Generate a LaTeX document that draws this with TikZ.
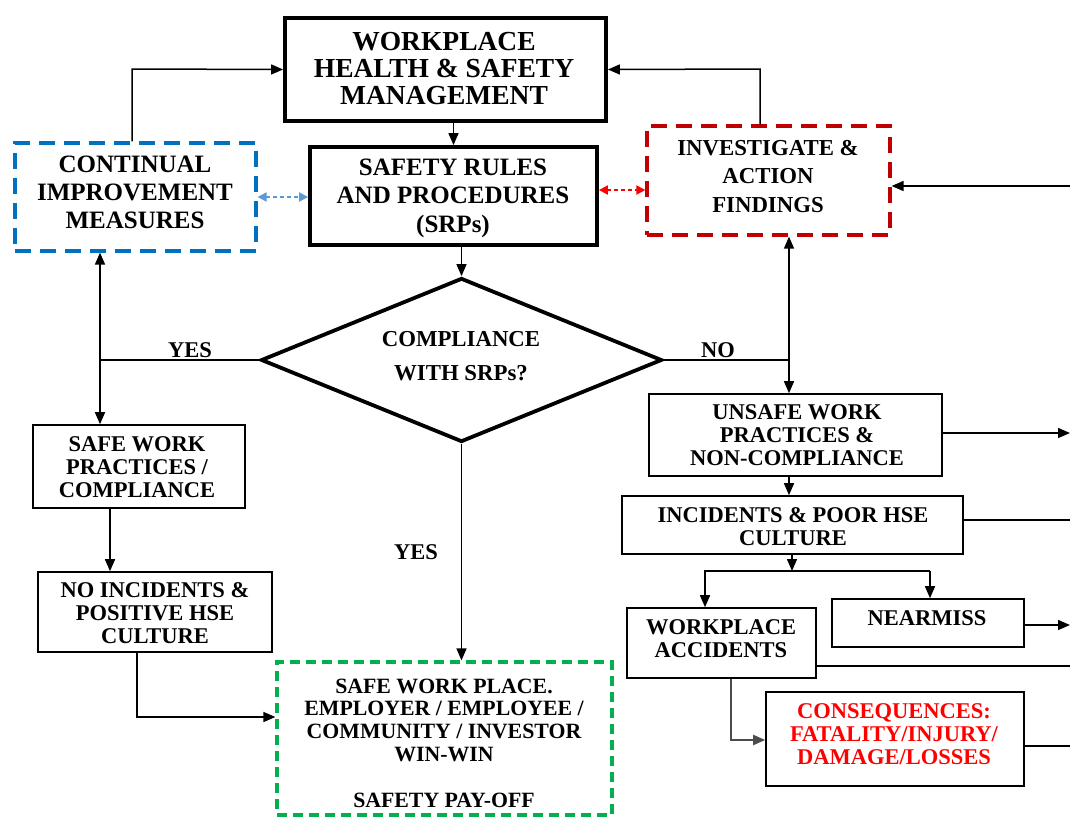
\documentclass[tikz,border=0pt]{standalone}
\usepackage{fontspec}
\setmainfont{Liberation Serif}
\newfontfamily\tnr{Liberation Serif}
\usetikzlibrary{arrows.meta,shapes.geometric}
\definecolor{cblue}{RGB}{0,112,192}
\definecolor{cred}{RGB}{192,0,0}
\definecolor{cgreen}{RGB}{0,176,80}
\definecolor{lblue}{RGB}{91,155,213}
\definecolor{bred}{RGB}{255,0,0}
\begin{document}
\begin{tikzpicture}[x=1pt,y=-1pt]
\tikzset{
  box/.style={draw, rectangle, line width=1.6pt, inner sep=0pt},
  thickbox/.style={draw, rectangle, line width=3.8pt, inner sep=0pt},
  dbox/.style={draw, rectangle, line width=3.2pt, inner sep=0pt, dash pattern=on 16pt off 9pt},
  txt/.style={align=center, inner sep=0pt, font=\tnr\fontsize{22.5pt}{23pt}\selectfont\bfseries},
  arr/.style={-{Triangle[length=12pt,width=10pt]}, line width=1.5pt},
  darr/.style={{Triangle[length=12pt,width=10pt]}-{Triangle[length=12pt,width=10pt]}, line width=1.5pt},
  ln/.style={line width=1.5pt},
  dotarr/.style={{Triangle[length=9pt,width=9pt]}-{Triangle[length=9pt,width=9pt]}, line width=2pt, dash pattern=on 4pt off 3pt},
}
\useasboundingbox (0,0) rectangle (1070,817);
\fill[white] (0,0) rectangle (1070,817);

% boxes
\node[thickbox, minimum width=321pt, minimum height=103pt] (whsm) at (445.5,69.5) {};
\node[thickbox, minimum width=287pt, minimum height=98pt] (srp) at (453.5,196) {};
\node[dbox, draw=cblue, minimum width=241pt, minimum height=108pt] (cim) at (135.5,197) {};
\node[dbox, draw=cred, minimum width=243pt, minimum height=109pt] (inv) at (768.5,180.5) {};
\node[draw, diamond, line width=3.8pt, inner sep=0pt, minimum width=401pt, minimum height=164pt] (dia) at (461.5,360) {};
\node[box, minimum width=212pt, minimum height=83pt] (safe) at (139,466.5) {};
\node[box, minimum width=234pt, minimum height=80pt] (noinc) at (155,612) {};
\node[draw=cgreen, rectangle, line width=3.2pt, inner sep=0pt, dash pattern=on 10pt off 6pt, minimum width=335pt, minimum height=153pt] (green) at (444.5,738.5) {};
\node[box, minimum width=293pt, minimum height=82pt] (unsafe) at (795.5,435) {};
\node[box, minimum width=341pt, minimum height=58pt] (incid) at (792.5,525) {};
\node[box, minimum width=189pt, minimum height=70pt] (acc) at (721.5,643) {};
\node[box, minimum width=192pt, minimum height=48pt] (near) at (928,623) {};
\node[box, minimum width=258pt, minimum height=94pt] (cons) at (895,739) {};

% texts
\node[txt, font=\tnr\fontsize{27.5pt}{27pt}\selectfont\bfseries] (whsmt) at (444,69) {WORKPLACE\\HEALTH \& SAFETY\\MANAGEMENT};
\node[txt, font=\tnr\fontsize{25pt}{28.5pt}\selectfont\bfseries] (srpt) at (453,198) {SAFETY RULES\\AND PROCEDURES\\(SRPs)};
\node[txt, font=\tnr\fontsize{25pt}{28pt}\selectfont\bfseries] (cimt) at (135,192) {CONTINUAL\\IMPROVEMENT\\MEASURES};
\node[txt, font=\tnr\fontsize{22.8pt}{28.5pt}\selectfont\bfseries] (invt) at (768,176.5) {INVESTIGATE \&\\ACTION\\FINDINGS};
\node[txt, font=\tnr\fontsize{22.8pt}{34pt}\selectfont\bfseries] (diat) at (461,356) {COMPLIANCE\\WITH SRPs?};
\node[txt] (safet) at (137,467) {SAFE WORK\\PRACTICES /\\COMPLIANCE};
\node[txt] (noinct) at (155,613) {NO INCIDENTS \&\\POSITIVE HSE\\CULTURE};
\node[txt, font=\tnr\fontsize{21.8pt}{22.8pt}\selectfont\bfseries] (greent) at (444,743) {SAFE WORK PLACE.\\EMPLOYER / EMPLOYEE /\\COMMUNITY / INVESTOR\\WIN-WIN\\[22.8pt]SAFETY PAY-OFF};
\node[txt] (unsafet) at (797,435) {UNSAFE WORK\\PRACTICES \&\\NON-COMPLIANCE};
\node[txt] (incidt) at (793,526.5) {INCIDENTS \& POOR HSE\\CULTURE};
\node[txt] (acct) at (721,639) {WORKPLACE\\ACCIDENTS};
\node[txt] (neart) at (927,618) {NEARMISS};
\node[txt, text=bred] (const) at (894,734.5) {CONSEQUENCES:\\FATALITY/INJURY/\\DAMAGE/LOSSES};

% labels
\node[txt] (yes1) at (190,350) {YES};
\node[txt] (no1) at (718,350) {NO};
\node[txt] (yes2) at (416,552) {YES};

% coordinates
\coordinate (c1) at (132,69);
\coordinate (c2) at (760,69);
\coordinate (e1) at (1070,186);
\coordinate (d1) at (0,190);
\coordinate (c3) at (100,360);
\coordinate (c4) at (789,360);
\coordinate (c5) at (110,0);
\coordinate (c6) at (137,717);
\coordinate (e2) at (1070,433);
\coordinate (e3) at (1070,520);
\coordinate (c7) at (792,571);
\coordinate (c8) at (705,571);
\coordinate (c9) at (930,571);
\coordinate (e4) at (1070,666);
\coordinate (e5) at (1070,625);
\coordinate (c10) at (731,740);
\coordinate (e6) at (1070,746);

% connectors
\draw[arr] (whsm.south -| srp.north) -- (srp.north);
\draw[arr] (cim.north -| c1) -- (c1) -- (whsm.west);
\draw[arr] (inv.north -| c2) -- (c2) -- (whsm.east);
\draw[arr] (e1) -- (e1 -| inv.east);
\draw[dotarr, lblue] (cim.east) -- (srp.west |- cim.east);
\draw[dotarr, bred] (srp.east |- d1) -- (inv.west |- d1);
\draw[arr] (srp.south -| dia.north) -- (dia.north);
\draw[ln] (dia.west) -- (c3);
\draw[darr] (cim.south -| c3) -- (safe.north -| c3);
\draw[ln] (dia.east) -- (c4);
\draw[darr] (inv.south -| c4) -- (unsafe.north -| c4);
\draw[arr] (safe.south -| c5) -- (noinc.north -| c5);
\draw[arr] (noinc.south -| c6) -- (c6) -- (c6 -| green.west);
\draw[arr] (dia.south) -- (dia.south |- green.north);
\draw[arr] (unsafe.east |- e2) -- (e2);
\draw[arr] (unsafe.south -| c4) -- (incid.north -| c4);
\draw[ln] (incid.east |- e3) -- (e3);
\draw[arr] (incid.south -| c7) -- (c7);
\draw[arr] (c9) -- (near.north -| c9);
\draw[arr] (c9) -- (c8) -- (acc.north -| c8);
\draw[ln] (acc.east |- e4) -- (e4);
\draw[arr] (near.east |- e5) -- (e5);
\draw[arr, draw=black!70, line width=2pt] (acc.south -| c10) -- (c10) -- (cons.west |- c10);
\draw[ln] (cons.east |- e6) -- (e6);
\end{tikzpicture}
\end{document}
